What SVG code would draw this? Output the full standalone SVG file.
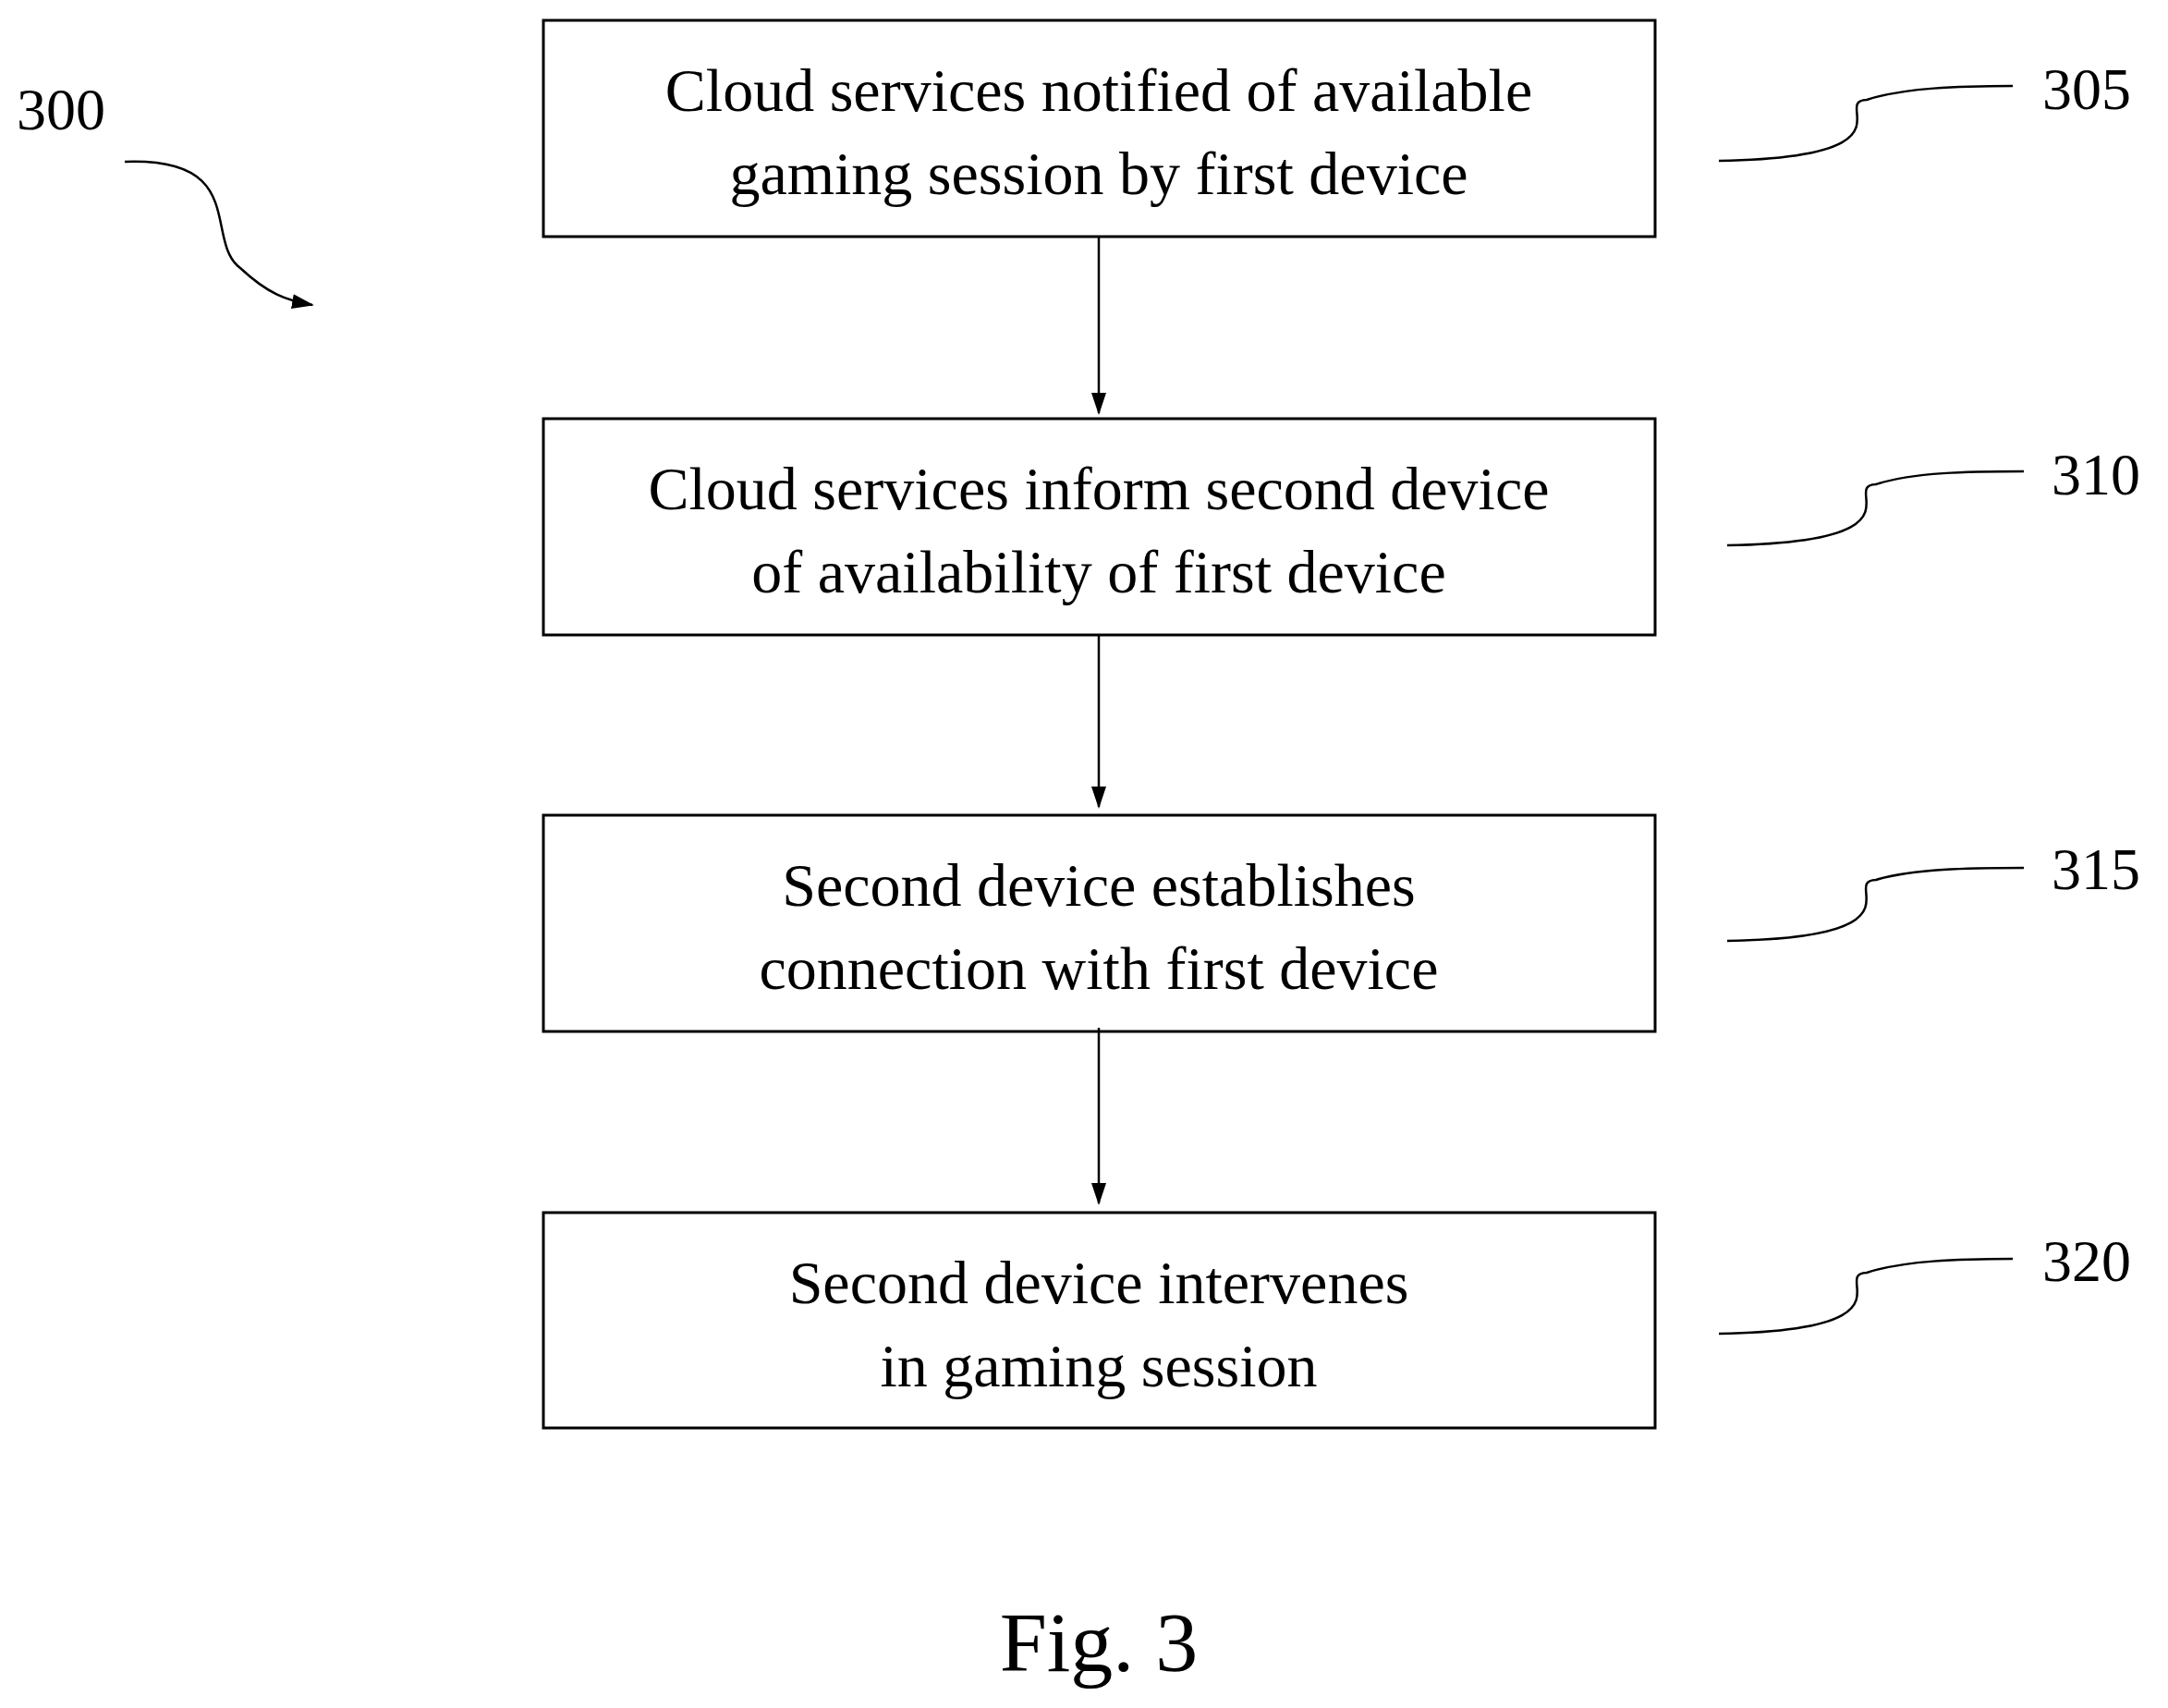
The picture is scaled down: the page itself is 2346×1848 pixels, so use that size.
<svg xmlns="http://www.w3.org/2000/svg" width="2346" height="1848" viewBox="0 0 2346 1848">
<style>
.box{fill:#fff;stroke:#000;stroke-width:3}
.t{font-family:"Liberation Serif",serif;font-size:66px;text-anchor:middle;fill:#000}
.lbl{font-family:"Liberation Serif",serif;font-size:64px;fill:#000}
.c{fill:none;stroke:#000;stroke-width:2.5}
</style>
<defs><marker id="ah" markerWidth="10" markerHeight="10" refX="9" refY="5" orient="auto" markerUnits="userSpaceOnUse" viewBox="0 0 10 10"><path d="M0,0 L10,5 L0,10 Z" fill="#000"/></marker>
<marker id="a2" markerWidth="24" markerHeight="24" refX="22" refY="12" orient="auto" markerUnits="userSpaceOnUse"><path d="M0,4 L24,12 L0,20 Z" fill="#000"/></marker></defs>
<rect width="2346" height="1848" fill="#fff"/>
<g id="n305"><rect class="box" x="588" y="22" width="1203" height="234"/><text class="t" x="1189" y="120">Cloud services notified of available</text><text class="t" x="1189" y="210">gaming session by first device</text></g>
<g id="n310"><rect class="box" x="588" y="453" width="1203" height="234"/><text class="t" x="1189" y="551">Cloud services inform second device</text><text class="t" x="1189" y="641">of availability of first device</text></g>
<g id="n315"><rect class="box" x="588" y="882" width="1203" height="234"/><text class="t" x="1189" y="980">Second device establishes</text><text class="t" x="1189" y="1070">connection with first device</text></g>
<g id="n320"><rect class="box" x="588" y="1312" width="1203" height="233"/><text class="t" x="1189" y="1410">Second device intervenes</text><text class="t" x="1189" y="1500">in gaming session</text></g>
<g id="labels">
<text class="lbl" x="2210" y="118">305</text><text class="lbl" x="2220" y="535">310</text><text class="lbl" x="2220" y="962">315</text><text class="lbl" x="2210" y="1386">320</text><text class="lbl" x="18" y="140">300</text>
<text x="1189" y="1808" style="font-family:'Liberation Serif',serif;font-size:92px;text-anchor:middle">Fig. 3</text>
</g>
<g id="connectors">
<path class="c" d="M1189,256 V447" marker-end="url(#a2)"/>
<path class="c" d="M1189,687 V873" marker-end="url(#a2)"/>
<path class="c" d="M1189,1112 V1302" marker-end="url(#a2)"/>
<path class="c" d="M1860,174 C2080,170 1980,110 2020,108 C2060,95 2120,93 2178,93"/>
<path class="c" d="M1869,590 C2090,586 1990,526 2030,524 C2070,511 2130,510 2190,510"/>
<path class="c" d="M1869,1018 C2090,1014 1990,954 2030,952 C2070,940 2130,939 2190,939"/>
<path class="c" d="M1860,1443 C2080,1439 1980,1379 2020,1377 C2060,1364 2120,1362 2178,1362"/>
<path class="c" d="M135,175 C270,170 220,260 260,290 C290,318 310,325 338,330" marker-end="url(#a2)"/>
</g>
</svg>
